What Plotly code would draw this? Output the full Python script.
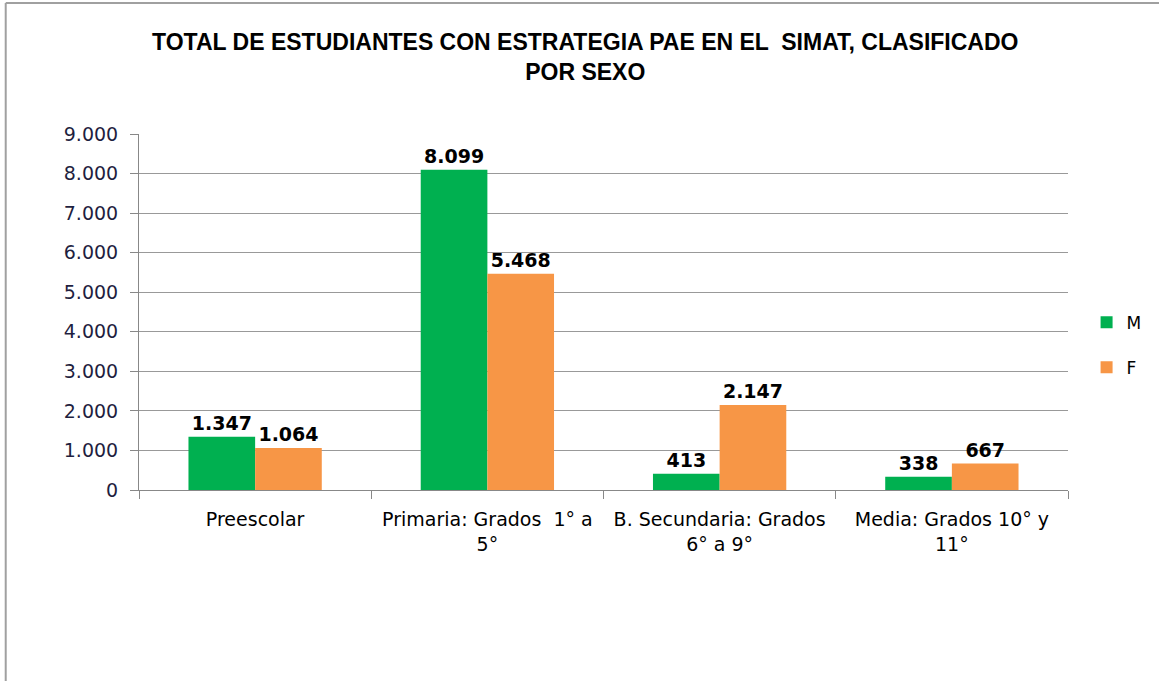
import plotly.graph_objects as go

categories = ["Preescolar", "Primaria: Grados  1° a<br>5°", "B. Secundaria: Grados<br>6° a 9°", "Media: Grados 10° y<br>11°"]
series_names = ["M", "F"]
values_m = [1347, 8099, 413, 338]
values_f = [1064, 5468, 2147, 667]
y_ticks = [0, 1000, 2000, 3000, 4000, 5000, 6000, 7000, 8000, 9000]
title_text = "TOTAL DE ESTUDIANTES CON ESTRATEGIA PAE EN EL  SIMAT, CLASIFICADO<br>POR SEXO"

colors = ["#00B050", "#F79646"]

fig = go.Figure()
for name, vals, col in zip(series_names, [values_m, values_f], colors):
    fig.add_trace(go.Bar(
        x=categories, y=vals, name=name, legendgroup=name,
        marker=dict(color=col, line=dict(width=0)),
        texttemplate="%{y:,d}", textposition="outside",
        textfont=dict(family="DejaVu Sans", size=19, color="#000000", weight="bold"),
        cliponaxis=False,
    ))

W, H = 1159, 681
L, R, T, B = 139, 1073, 134, 490

fig.update_layout(
    width=W, height=H,
    margin=dict(l=L, r=W - R, t=T, b=H - B),
    paper_bgcolor="white", plot_bgcolor="white",
    separators=",.",
    barmode="group", bargap=0.426, bargroupgap=0,
    title=dict(text=title_text, x=0.505, xanchor="center", y=0.926, yanchor="middle",
               font=dict(family="Liberation Sans", size=23, color="#000000", weight="bold")),
    legend=dict(x=1.02, xanchor="left", y=0.407, yanchor="middle",
                font=dict(family="DejaVu Sans", size=17, color="#000000"),
                traceorder="grouped", tracegroupgap=20, itemwidth=30,
                bgcolor="rgba(0,0,0,0)"),
    xaxis=dict(
        type="category", tickson="boundaries", ticks="outside", ticklen=8,
        tickcolor="#888888", showline=True, linecolor="#888888", linewidth=1,
        showgrid=False, ticklabelstandoff=12,
        tickfont=dict(family="DejaVu Sans", size=19, color="#000000"),
    ),
    yaxis=dict(
        range=[0, 9000], tickvals=y_ticks, tickformat=",d",
        ticks="outside", ticklen=8, tickcolor="#888888",
        showline=True, linecolor="#888888", linewidth=1,
        showgrid=True, gridcolor="#999999", gridwidth=1,
        zeroline=False,
        tickfont=dict(family="DejaVu Sans", size=19, color="#1F1F3F"),
        ticklabelstandoff=8,
    ),
    shapes=[
        dict(type="line", xref="paper", yref="paper",
             x0=(5 - L) / (R - L), x1=(W + 20 - L) / (R - L),
             y0=1 + (T - 3) / (B - T), y1=1 + (T - 3) / (B - T),
             line=dict(color="#A0A0A0", width=2)),
        dict(type="line", xref="paper", yref="paper",
             x0=(5 - L) / (R - L), x1=(5 - L) / (R - L),
             y0=1 + (T - 3) / (B - T), y1=-(H + 20 - B) / (B - T),
             line=dict(color="#A0A0A0", width=2)),
    ],
)

fig.write_html("out.html", config={"displayModeBar": False},
               post_script="document.body.style.margin='0';")
